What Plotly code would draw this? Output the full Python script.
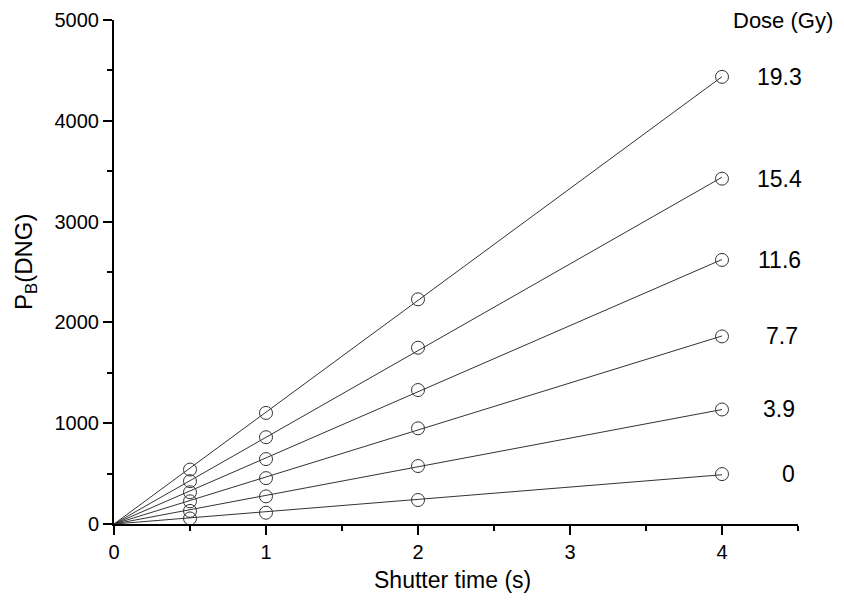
import numpy as np
import plotly.graph_objects as go

shutter_time = [0.5, 1, 2, 4]
dose_labels = ["19.3", "15.4", "11.6", "7.7", "3.9", "0"]
pb_values = {
    "19.3": [540, 1102, 2229, 4436],
    "15.4": [425, 861, 1749, 3426],
    "11.6": [315, 644, 1329, 2620],
    "7.7": [225, 455, 949, 1861],
    "3.9": [130, 274, 575, 1136],
    "0": [55, 112, 238, 495],
}
x_ticks = [0, 1, 2, 3, 4]
y_ticks = [0, 1000, 2000, 3000, 4000, 5000]

FONT = "Liberation Sans, Arial, sans-serif"
INK = "#333333"

# page has an 8px body margin; figure sized to fit inside the 844x606 window
OFF = 8
W, H = 844 - OFF, 606 - OFF
L, T = 114 - OFF, 20 - OFF
R = W - (798 - OFF)
B = H - (524 - OFF)
pw, ph = W - L - R, H - T - B

def px_to_paper_x(px):
    return (px - OFF - L) / pw

def px_to_paper_y(py):
    return (H - B - (py - OFF)) / ph

label_px = {"19.3": 779, "15.4": 779, "11.6": 779, "7.7": 782, "3.9": 779, "0": 788}

fig = go.Figure()
xs = np.array(shutter_time, dtype=float)
for lab in dose_labels:
    ys = np.array(pb_values[lab], dtype=float)
    slope = float(np.sum(xs * ys) / np.sum(xs * xs))
    fig.add_trace(go.Scatter(
        x=[0, xs.max()], y=[0, slope * xs.max()], mode="lines",
        line=dict(color=INK, width=1), showlegend=False, hoverinfo="skip"))
    fig.add_trace(go.Scatter(
        x=shutter_time, y=pb_values[lab], mode="markers",
        marker=dict(symbol="circle-open", size=13, color=INK, line=dict(width=1, color=INK)),
        showlegend=False, name=lab))
    fig.add_annotation(x=px_to_paper_x(label_px[lab]), y=pb_values[lab][-1], xref="paper", yref="y",
                       text=lab, showarrow=False, xanchor="center", yanchor="middle",
                       font=dict(family=FONT, size=23, color="black"))

fig.add_annotation(x=px_to_paper_x(783), y=px_to_paper_y(21), xref="paper", yref="paper",
                   text="Dose (Gy)", showarrow=False, xanchor="center", yanchor="middle",
                   font=dict(family=FONT, size=22, color="black"))
fig.add_annotation(x=px_to_paper_x(452), y=px_to_paper_y(580), xref="paper", yref="paper",
                   text="Shutter time (s)", showarrow=False, xanchor="center", yanchor="middle",
                   font=dict(family=FONT, size=23, color="black"))
fig.add_annotation(x=px_to_paper_x(26), y=px_to_paper_y(262), xref="paper", yref="paper",
                   text="P<sub>B</sub>(DNG)", showarrow=False, textangle=-90,
                   xanchor="center", yanchor="middle",
                   font=dict(family=FONT, size=24, color="black"))

axis_common = dict(
    showgrid=False, zeroline=False, showline=True, linecolor="black", linewidth=2,
    ticks="outside", ticklen=9, tickwidth=2, tickcolor="black", automargin=False,
    tickfont=dict(family=FONT, size=20, color="black"),
)
fig.update_xaxes(range=[0, 4.5], tickvals=x_ticks, ticktext=[str(v) for v in x_ticks],
                 minor=dict(dtick=0.5, tick0=0, ticks="outside", ticklen=5, tickwidth=2, tickcolor="black"),
                 **axis_common)
fig.update_yaxes(range=[0, 5000], tickvals=y_ticks, ticktext=[str(v) for v in y_ticks],
                 minor=dict(dtick=500, tick0=0, ticks="outside", ticklen=5, tickwidth=2, tickcolor="black"),
                 **axis_common)

fig.update_layout(
    width=W, height=H, plot_bgcolor="white", paper_bgcolor="white",
    margin=dict(l=L, r=R, t=T, b=B),
)
fig.write_html("out.html")
